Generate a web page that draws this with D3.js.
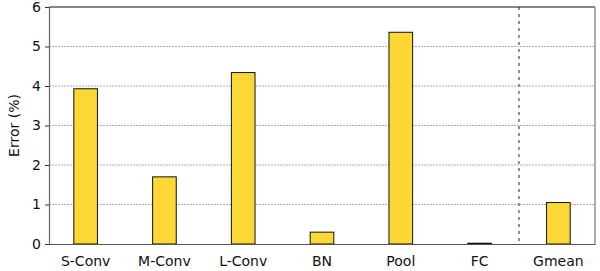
<!DOCTYPE html>
<html>
<head>
<meta charset="utf-8">
<script src="https://cdn.jsdelivr.net/npm/d3@7"></script>
<style>
  body { margin: 0; background: #fff; }
  svg { display: block; }
  svg text { font-family: "DejaVu Sans", sans-serif; }
</style>
</head>
<body>
<div id="chart"></div>
<script>
// Data
const categories = ["S-Conv", "M-Conv", "L-Conv", "BN", "Pool", "FC", "Gmean"];
const errors = [3.93, 1.70, 4.34, 0.30, 5.36, 0.02, 1.05];
const yTicks = [0, 1, 2, 3, 4, 5, 6];

const width = 600, height = 271;
const margin = { top: 7, right: 5, bottom: 27, left: 49 };
const fontSize = 14;

const svg = d3.select("#chart").append("svg")
    .attr("width", width)
    .attr("height", height);

const x = d3.scaleBand()
    .domain(categories)
    .range([margin.left, width - margin.right])
    .paddingInner(0.7)
    .paddingOuter(0.315);

const y = d3.scaleLinear()
    .domain([0, 6])
    .range([height - margin.bottom, margin.top]);

// Horizontal grid lines
svg.append("g")
    .selectAll("line")
    .data(yTicks.filter(d => d > 0 && d < 6))
    .join("line")
    .attr("x1", margin.left)
    .attr("x2", width - margin.right)
    .attr("y1", d => y(d))
    .attr("y2", d => y(d))
    .attr("stroke", "#999")
    .attr("stroke-width", 0.8)
    .attr("stroke-dasharray", "2,1");

// Separator before Gmean
const sepX = (x("FC") + x("Gmean") + x.bandwidth()) / 2;
svg.append("line")
    .attr("x1", sepX).attr("x2", sepX)
    .attr("y1", margin.top).attr("y2", height - margin.bottom)
    .attr("stroke", "#777")
    .attr("stroke-width", 1.6)
    .attr("stroke-dasharray", "3,4");

// Bars
svg.append("g")
    .selectAll("rect")
    .data(categories.map((c, i) => ({ name: c, value: errors[i] })))
    .join("rect")
    .attr("x", d => x(d.name))
    .attr("y", d => y(d.value))
    .attr("width", x.bandwidth())
    .attr("height", d => y(0) - y(d.value))
    .attr("fill", "#fdd835")
    .attr("stroke", "#111")
    .attr("stroke-width", 1);

// Frame
svg.append("line")
    .attr("x1", margin.left).attr("x2", width - margin.right)
    .attr("y1", margin.top).attr("y2", margin.top)
    .attr("stroke", "#111").attr("stroke-width", 1.2);
svg.append("line")
    .attr("x1", width - margin.right).attr("x2", width - margin.right)
    .attr("y1", margin.top).attr("y2", height - margin.bottom)
    .attr("stroke", "#777").attr("stroke-width", 1.2);

// Y axis
const yAxis = svg.append("g")
    .attr("transform", `translate(${margin.left},0)`)
    .call(d3.axisLeft(y).tickValues(yTicks).tickFormat(d3.format("d")).tickSize(4).tickPadding(4));
yAxis.attr("font-family", null).attr("font-size", fontSize);
yAxis.select(".domain").attr("stroke", "#666").attr("stroke-width", 1.2);
yAxis.selectAll(".tick line").attr("stroke", "#333");
yAxis.selectAll("text").attr("fill", "#111");

// X axis
const xAxis = svg.append("g")
    .attr("transform", `translate(0,${height - margin.bottom})`)
    .call(d3.axisBottom(x).tickSize(0).tickPadding(12));
xAxis.attr("font-family", null).attr("font-size", fontSize);
xAxis.select(".domain").attr("stroke", "#555").attr("stroke-width", 1.2);
xAxis.selectAll("text").attr("fill", "#111");

// Y label
svg.append("text")
    .attr("transform", `translate(19,${(margin.top + height - margin.bottom) / 2}) rotate(-90)`)
    .attr("text-anchor", "middle")
    .attr("font-size", fontSize)
    .attr("fill", "#111")
    .text("Error (%)");
</script>
</body>
</html>
